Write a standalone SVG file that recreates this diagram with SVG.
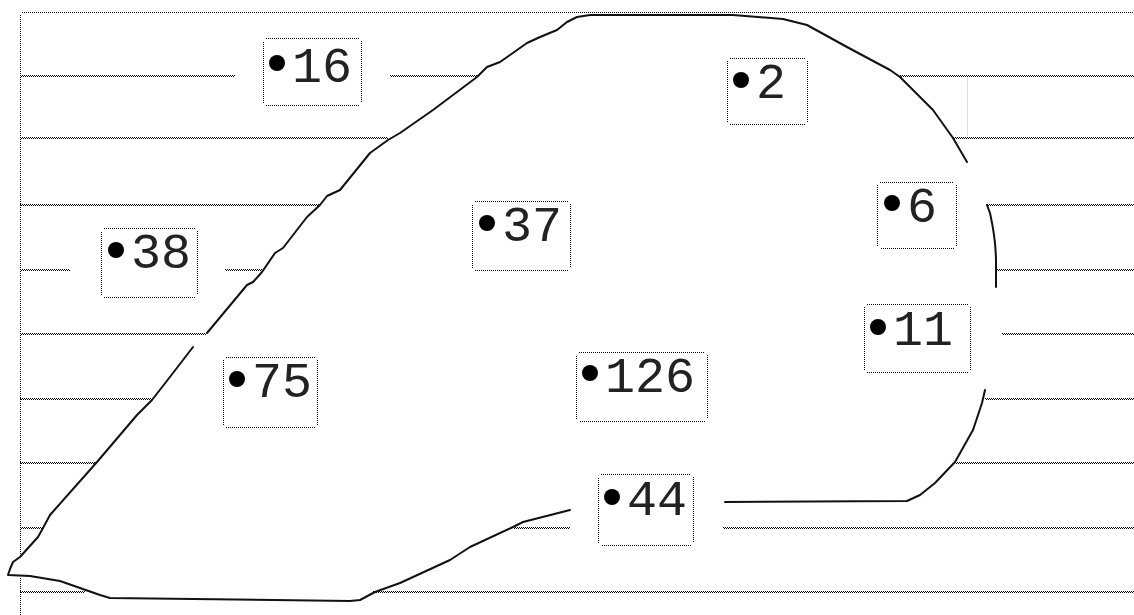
<svg xmlns="http://www.w3.org/2000/svg" width="1134" height="615" viewBox="0 0 1134 615">
<defs>
<style>
.h1{fill:none;stroke:#000;stroke-width:1;stroke-dasharray:1 1;shape-rendering:crispEdges}
.h2{fill:none;stroke:#000;stroke-width:1;stroke-dasharray:1 1;stroke-dashoffset:1;shape-rendering:crispEdges}
.b{fill:none;stroke:#000;stroke-width:1;stroke-dasharray:1 1;shape-rendering:crispEdges}
.bg{fill:#fff;stroke:none}
.o{fill:none;stroke:#111;stroke-width:2;stroke-linejoin:round;stroke-linecap:round}
.t{font-family:"Liberation Mono","DejaVu Sans Mono",monospace;font-size:50px;fill:#222}
</style>
</defs>
<rect width="1134" height="615" fill="#fff"/>
<g id="border">
<line class="b" x1="20.5" y1="556" x2="20.5" y2="14"/>
<line class="b" x1="22" y1="12.5" x2="1134" y2="12.5"/>
<line class="b" x1="20.5" y1="578" x2="20.5" y2="615"/>
<line x1="967.5" y1="77" x2="967.5" y2="138" stroke="#ddd" stroke-width="1"/>
</g>
<g id="hatching">
<path class="h1" d="M20,75.5H235M390,75.5H478M900,75.5H1134M20,137.5H388M953,137.5H1134M20,204.5H320M987,204.5H1134M20,269.5H70M225,269.5H262M997,269.5H1134M20,333.5H206M1002,333.5H1134M20,398.5H152M985,398.5H1134M20,462.5H97M955,462.5H1134M20,527.5H43M513,527.5H570M723,527.5H1134M20,591.5H85M373,591.5H1134"/>
<path class="h2" d="M20,76.5H235M390,76.5H478M900,76.5H1134M20,138.5H388M953,138.5H1134M20,205.5H320M987,205.5H1134M20,270.5H70M225,270.5H262M997,270.5H1134M20,334.5H206M1002,334.5H1134M20,399.5H152M985,399.5H1134M20,463.5H97M955,463.5H1134M20,528.5H43M513,528.5H570M723,528.5H1134M20,592.5H85M373,592.5H1134"/>
</g>
<g id="outline">
<path class="o" d="M570,510 L523,522 L513,527 L470,547 L450,560 L400,583 L375,592 L360,600 L350,601 L110,598 L100,595 L60,581 L30,576 L8,575 L10,569 L13,562 L20,557 L38,537 L43,528 L50,515 L97,462 L137,415 L152,400 L173,373 L193,347"/>
<path class="o" d="M207,333 L247,285 L253,282 L262,272 L275,253 L283,248 L307,217 L320,205 L327,196 L340,190 L370,153 L388,140 L400,133 L433,110 L477,77 L487,67 L500,62 L510,55 L527,43 L540,37 L557,30 L567,22 L577,17 L590,15 L733,15 L783,19 L807,25 L847,47 L890,70 L900,77 L933,110 L953,138 L967,162"/>
<path class="o" d="M987,205 L990,213 Q996,240 996,262 L996,287"/>
<path class="o" d="M985,390 L982,403 L973,430 L955,462 L935,483 L920,495 L907,501 L725,502"/>
</g>
<g id="n16"><rect class="bg" x="263" y="38" width="99" height="68"/><path class="b" d="M266,38.5H359M361.5,41V103M359,105.5H266M263.5,103V41"/><circle cx="277" cy="63" r="8"/><text class="t" x="292" y="82">16</text></g>
<g id="n2"><rect class="bg" x="727" y="58" width="81" height="67"/><path class="b" d="M730,58.5H805M807.5,61V122M805,124.5H730M727.5,122V61"/><circle cx="741" cy="80" r="8"/><text class="t" x="756" y="98">2</text></g>
<g id="n6"><rect class="bg" x="877" y="182" width="80" height="67"/><path class="b" d="M880,182.5H954M956.5,185V246M954,248.5H880M877.5,246V185"/><circle cx="892" cy="203" r="8"/><text class="t" x="907" y="222">6</text></g>
<g id="n11"><rect class="bg" x="864" y="304" width="107" height="69"/><path class="b" d="M867,304.5H968M970.5,307V370M968,372.5H867M864.5,370V307"/><circle cx="878" cy="327" r="8"/><text class="t" x="893" y="345">11</text></g>
<g id="n38"><rect class="bg" x="101" y="228" width="97" height="70"/><path class="b" d="M104,228.5H195M197.5,231V295M195,297.5H104M101.5,295V231"/><circle cx="116" cy="250" r="8"/><text class="t" x="131" y="268">38</text></g>
<g id="n75"><rect class="bg" x="223" y="357" width="95" height="71"/><path class="b" d="M226,357.5H315M317.5,360V425M315,427.5H226M223.5,425V360"/><circle cx="237" cy="379" r="8"/><text class="t" x="252" y="397">75</text></g>
<g id="n37"><rect class="bg" x="472" y="201" width="99" height="70"/><path class="b" d="M475,201.5H568M570.5,204V268M568,270.5H475M472.5,268V204"/><circle cx="487" cy="223" r="8"/><text class="t" x="502" y="241">37</text></g>
<g id="n126"><rect class="bg" x="576" y="352" width="132" height="70"/><path class="b" d="M579,352.5H705M707.5,355V419M705,421.5H579M576.5,419V355"/><circle cx="590" cy="373" r="8"/><text class="t" x="605" y="392">126</text></g>
<g id="n44"><rect class="bg" x="598" y="474" width="96" height="72"/><path class="b" d="M601,474.5H691M693.5,477V543M691,545.5H601M598.5,543V477"/><circle cx="612" cy="497" r="8"/><text class="t" x="627" y="515">44</text></g>
</svg>
